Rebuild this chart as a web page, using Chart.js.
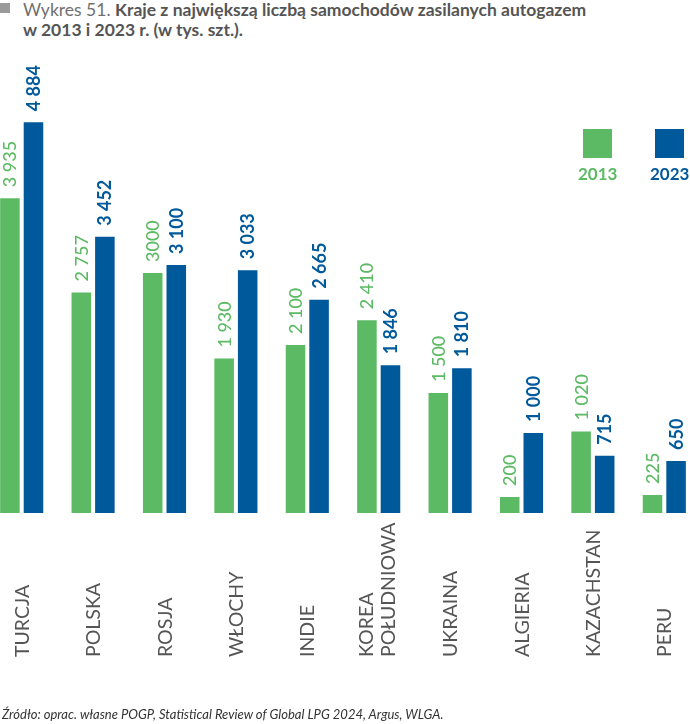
<!DOCTYPE html>
<html lang="pl">
<head>
<meta charset="utf-8">
<title>Wykres 51</title>
<script src="https://cdn.jsdelivr.net/npm/chart.js@4.4.1/dist/chart.umd.min.js"></script>
<style>
  html, body { margin: 0; padding: 0; background: #fff; }
  body { width: 690px; height: 724px; position: relative; overflow: hidden; font-family: Lato, "Noto Sans", sans-serif; }
  .tytul { position: absolute; left: 0; top: 0; font-size: 17.5px; line-height: 20px; color: #555; }
  .tytul .kw { position: absolute; left: 0; top: 3px; width: 10px; height: 10px; background: #9a9a9a; }
  .tytul .tekst { margin-left: 23px; }
  .tytul .nr { color: #707070; }
  .tytul b { font-weight: 700; color: #555; }
  .legenda { position: absolute; top: 129px; font-size: 17px; font-weight: 700; text-align: center; }
  .legenda .kw { width: 29px; height: 29px; margin: 0 auto 5px auto; }
  #wrap { position: absolute; left: -14px; top: 0; width: 714px; height: 724px; }
  .zrodlo { position: absolute; left: 2px; top: 706px; font-size: 13px; font-style: italic; color: #333; }
</style>
</head>
<body>
<div class="tytul">
  <div class="kw"></div>
  <div class="tekst"><span class="nr">Wykres 51.</span> <b>Kraje z największą liczbą samochodów zasilanych autogazem<br>w 2013 i 2023 r. (w tys. szt.).</b></div>
</div>

<div id="wrap"><canvas id="wykres" width="714" height="724"></canvas></div>

<div class="legenda" style="left:578px; color:#5dba64;"><div class="kw" style="background:#5dba64;"></div>2013</div>
<div class="legenda" style="left:650px; color:#00599a;"><div class="kw" style="background:#00599a;"></div>2023</div>

<div class="zrodlo">Źródło: oprac. własne POGP, Statistical Review of Global LPG 2024, Argus, WLGA.</div>

<script>
// dane
const kraje = ['TURCJA', 'POLSKA', 'ROSJA', 'WŁOCHY', 'INDIE', ['KOREA', 'POŁUDNIOWA'], 'UKRAINA', 'ALGIERIA', 'KAZACHSTAN', 'PERU'];
const lata = ['2013', '2023'];
const wartosci2013 = [3935, 2757, 3000, 1930, 2100, 2410, 1500, 200, 1020, 225];
const wartosci2023 = [4884, 3452, 3100, 3033, 2665, 1846, 1810, 1000, 715, 650];
// etykiety tak jak na rysunku
const etykiety2013 = ['3 935', '2 757', '3000', '1 930', '2 100', '2 410', '1 500', '200', '1 020', '225'];
const etykiety2023 = ['4 884', '3 452', '3 100', '3 033', '2 665', '1 846', '1 810', '1 000', '715', '650'];

const zielony = '#5dba64';
const niebieski = '#00599a';

// podpisy nad słupkami i nazwy krajów pod osią
const podpisy = {
  id: 'podpisy',
  afterDatasetsDraw(chart) {
    const ctx = chart.ctx;
    const etykiety = [etykiety2013, etykiety2023];
    chart.data.datasets.forEach((ds, i) => {
      const meta = chart.getDatasetMeta(i);
      ctx.save();
      ctx.fillStyle = ds.backgroundColor;
      ctx.font = (i === 0 ? '500' : '700') + ' 18px Lato';
      meta.data.forEach((bar, j) => {
        ctx.save();
        ctx.translate(bar.x + 6.5, bar.y - 11);
        ctx.rotate(-Math.PI / 2);
        ctx.textAlign = 'left';
        ctx.textBaseline = 'alphabetic';
        ctx.fillText(etykiety[i][j], 0, 0);
        ctx.restore();
      });
      ctx.restore();
    });

    const x = chart.scales.x;
    ctx.save();
    ctx.fillStyle = '#555';
    ctx.font = '400 19.5px Lato';
    kraje.forEach((k, j) => {
      const linie = Array.isArray(k) ? k : [k];
      const px = x.getPixelForValue(j);
      linie.forEach((t, n) => {
        const off = (n - (linie.length - 1) / 2) * 22 - (linie.length - 1) * 2;
        ctx.save();
        ctx.translate(px + off + 7, 657);
        ctx.rotate(-Math.PI / 2);
        ctx.textAlign = 'left';
        ctx.fillText(t, 0, 0);
        ctx.restore();
      });
    });
    ctx.restore();
  }
};

new Chart(document.getElementById('wykres'), {
  type: 'bar',
  data: {
    labels: kraje,
    datasets: [
      { label: lata[0], data: wartosci2013, backgroundColor: zielony },
      { label: lata[1], data: wartosci2023, backgroundColor: niebieski }
    ]
  },
  options: {
    responsive: false,
    animation: false,
    categoryPercentage: 0.66,
    barPercentage: 0.83,
    layout: { padding: { left: 0, right: 0, top: 33, bottom: 211 } },
    plugins: {
      legend: { display: false },
      tooltip: { enabled: false }
    },
    scales: {
      x: { display: false },
      y: { display: false, min: 0, max: 6000 }
    }
  },
  plugins: [podpisy]
});
</script>
</body>
</html>
